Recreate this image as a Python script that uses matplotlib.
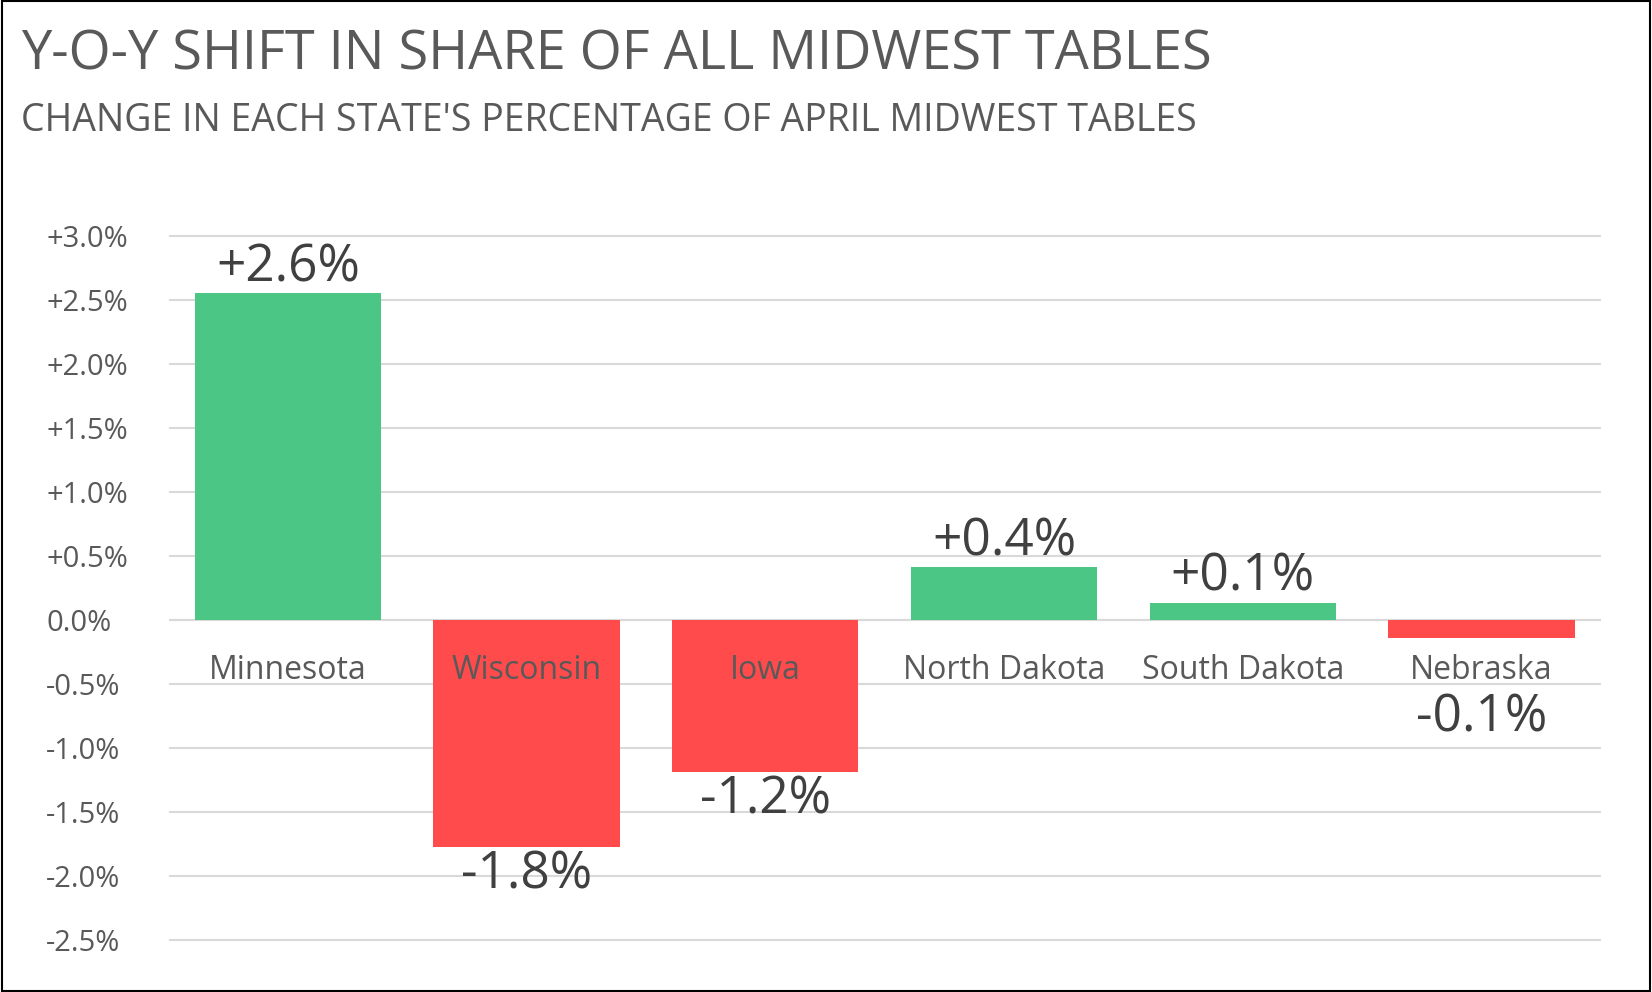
import matplotlib.pyplot as plt
from matplotlib.patches import Rectangle

states = ['Minnesota', 'Wisconsin', 'Iowa', 'North Dakota', 'South Dakota', 'Nebraska']
shift = [2.55, -1.78, -1.19, 0.41, 0.13, -0.14]
labels = ['+2.6%', '-1.8%', '-1.2%', '+0.4%', '+0.1%', '-0.1%']
ticks = [3.0, 2.5, 2.0, 1.5, 1.0, 0.5, 0.0, -0.5, -1.0, -1.5, -2.0, -2.5]

plt.rcParams['font.family'] = ['Open Sans', 'DejaVu Sans']
grey = '#595959'

fig = plt.figure(figsize=(16.52, 9.92), dpi=100)
fig.patches.append(Rectangle((0.001, 0.001), 0.998, 0.998, transform=fig.transFigure,
                             fill=False, edgecolor='black', linewidth=1.5))
fig.text(0.013, 0.93, 'Y-O-Y SHIFT IN SHARE OF ALL MIDWEST TABLES', fontsize=39, color=grey)
fig.text(0.013, 0.868, "CHANGE IN EACH STATE'S PERCENTAGE OF APRIL MIDWEST TABLES", fontsize=27, color=grey)

ax = fig.add_axes([0.102, 0.040, 0.867, 0.725])
x = range(len(states))
colors = ['#4CC685' if v > 0 else '#FF4B4B' for v in shift]
ax.bar(x, shift, width=0.78, color=colors, zorder=2)
ax.set_ylim(-2.6, 3.02)
ax.set_xlim(-0.5, 5.5)
ax.set_yticks(ticks)
ax.set_yticklabels([f'{t:+.1f}%' if t != 0 else '0.0%' for t in ticks], fontsize=21, color=grey)
ax.set_xticks([])
ax.grid(axis='y', color='#d9d9d9', linewidth=1.5, zorder=0)
ax.axhline(0, color='#d9d9d9', linewidth=1.5, zorder=1)
for s in ax.spines.values():
    s.set_visible(False)
ax.tick_params(axis='y', length=0, pad=88)
for lab in ax.get_yticklabels():
    lab.set_horizontalalignment('left')

for i, (v, l) in enumerate(zip(shift, labels)):
    ax.text(i, -0.4, states[i], ha='center', va='center', fontsize=23, color=grey, zorder=3)
    if v > 0:
        ax.text(i, v + 0.0, l, ha='center', va='bottom', fontsize=37, color='#404040')
    elif v > -0.5:
        ax.text(i, -0.77, l, ha='center', va='center', fontsize=37, color='#404040')
    else:
        ax.text(i, v - 0.02, l, ha='center', va='top', fontsize=37, color='#404040')

fig.savefig('out.png', dpi=100)
